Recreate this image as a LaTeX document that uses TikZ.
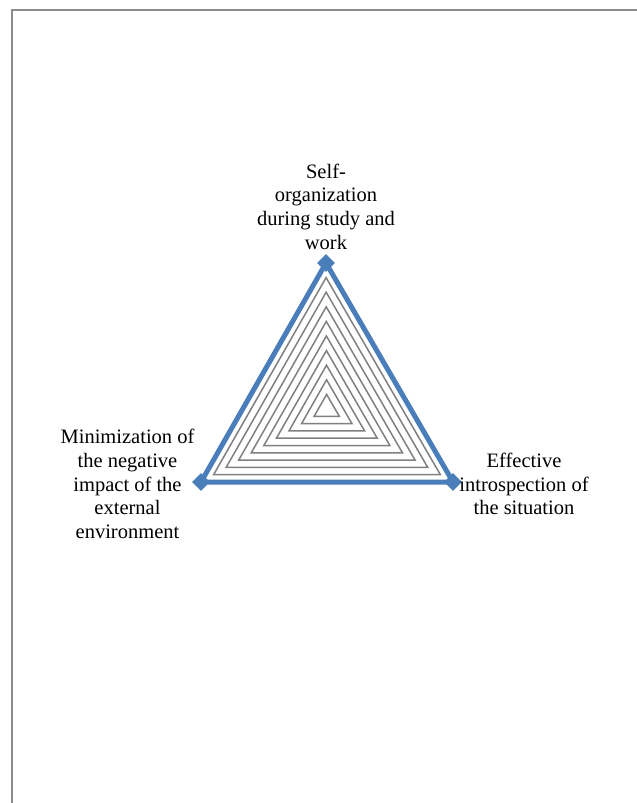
\documentclass[tikz,border=0pt]{standalone}
\usepackage{fontspec}
\setmainfont{Liberation Serif}
\usetikzlibrary{calc,shapes.geometric}
\definecolor{dblue}{RGB}{74,126,187}
\definecolor{gridgray}{RGB}{128,128,128}
\definecolor{framegray}{RGB}{140,140,140}
\tikzset{
  lbl/.style={align=center,inner sep=0pt,font=\fontsize{20.5}{23.6}\selectfont},
  gridline/.style={draw=gridgray,line width=1.5pt},
  dataline/.style={draw=dblue,line width=5pt,line join=round},
  marker/.style={diamond,fill=dblue,inner sep=0pt,minimum width=18pt,minimum height=18pt},
  framerule/.style={draw=framegray,line width=1.6pt}
}
\begin{document}
\begin{tikzpicture}[x=1pt,y=-1pt]
\useasboundingbox (0,0) rectangle (637,803);
% frame
\coordinate (f1) at (637,9.7);
\coordinate (f2) at (12,9.7);
\coordinate (f3) at (12,803);
\draw[framerule] (f1) -- (f2) -- (f3);
% vertices
\coordinate (A) at (326,263);
\coordinate (B) at (453,482);
\coordinate (D) at (201,482);
\coordinate (C) at (326.7,409);
\foreach \k in {1,...,9}{
  \draw[gridline] ($(C)!\k/10!(A)$) -- ($(C)!\k/10!(B)$) -- ($(C)!\k/10!(D)$) -- cycle;
}
\draw[dataline] (A) -- (B) -- (D) -- cycle;
\node[marker] (mA) at (A) {};
\node[marker] (mB) at (B) {};
\node[marker] (mD) at (D) {};
% labels
\node[lbl] (ltop) at (326,206.5) {Self-\\organization\\during study and\\work};
\node[lbl] (lleft) at (127.5,484) {Minimization of\\the negative\\impact of the\\external\\environment};
\node[lbl] (lright) at (524,484) {Effective\\introspection of\\the situation};
\end{tikzpicture}
\end{document}
